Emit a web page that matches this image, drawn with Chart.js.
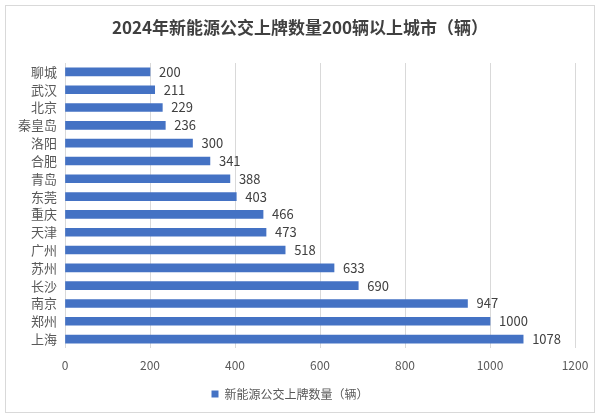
<!DOCTYPE html>
<html>
<head>
<meta charset="utf-8">
<script src="https://cdn.jsdelivr.net/npm/chart.js@4/dist/chart.umd.min.js"></script>
<style>
  html, body { margin: 0; padding: 0; background: #fff; }
</style>
</head>
<body>
<canvas id="busChart" width="600" height="420"></canvas>
<script>
const cities = ['聊城', '武汉', '北京', '秦皇岛', '洛阳', '合肥', '青岛', '东莞', '重庆', '天津', '广州', '苏州', '长沙', '南京', '郑州', '上海'];
const busCounts = [200, 211, 229, 236, 300, 341, 388, 403, 466, 473, 518, 633, 690, 947, 1000, 1078];
const xTicks = [0, 200, 400, 600, 800, 1000, 1200];

const titleText = '2024年新能源公交上牌数量200辆以上城市（辆）';
const seriesName = '新能源公交上牌数量（辆）';
const fontFamily = '"Noto Sans CJK SC", "Noto Sans", sans-serif';

// frame + title, drawn behind the chart
const framePlugin = {
    id: 'frame',
    beforeDraw: chart => {
        const ctx = chart.ctx;
        ctx.save();
        ctx.fillStyle = '#ffffff';
        ctx.fillRect(0, 0, chart.width, chart.height);
        ctx.strokeStyle = '#d9d9d9';
        ctx.lineWidth = 1;
        ctx.strokeRect(5.5, 5.5, 589, 407);
        ctx.fillStyle = '#404040';
        ctx.font = 'bold 17px ' + fontFamily;
        ctx.textAlign = 'center';
        ctx.textBaseline = 'middle';
        ctx.fillText(titleText, 300, 28);
        ctx.restore();
    }
};

// value labels at the end of each bar
const valueLabels = {
    id: 'valueLabels',
    afterDatasetsDraw: chart => {
        const ctx = chart.ctx;
        const meta = chart.getDatasetMeta(0);
        ctx.save();
        ctx.fillStyle = '#404040';
        ctx.font = '13px ' + fontFamily;
        ctx.textAlign = 'left';
        ctx.textBaseline = 'middle';
        meta.data.forEach((bar, i) => {
            ctx.fillText(String(busCounts[i]), bar.x + 9, bar.y);
        });
        ctx.restore();
    }
};

const ctx = document.getElementById('busChart').getContext('2d');

new Chart(ctx, {
    type: 'bar',
    data: {
        labels: cities,
        datasets: [{
            label: seriesName,
            data: busCounts,
            backgroundColor: '#4472c4',
            borderColor: '#4472c4',
            borderWidth: 0,
            barThickness: 8
        }]
    },
    options: {
        indexAxis: 'y',
        responsive: false,
        animation: false,
        layout: { padding: { top: 63, left: 5, right: 25, bottom: 10 } },
        plugins: {
            title: { display: false },
            tooltip: { enabled: false },
            legend: {
                position: 'bottom',
                labels: {
                    boxWidth: 7,
                    boxHeight: 7,
                    color: '#595959',
                    font: { family: fontFamily, size: 12 },
                    padding: 10
                }
            }
        },
        scales: {
            x: {
                min: 0,
                max: 1200,
                afterBuildTicks: scale => { scale.ticks = xTicks.map(v => ({ value: v })); },
                afterFit: scale => { scale.height = 30; },
                grid: { color: '#d9d9d9', drawTicks: false },
                border: { display: false },
                ticks: {
                    color: '#595959',
                    font: { family: fontFamily, size: 12 },
                    padding: 10,
                    callback: v => String(v)
                }
            },
            y: {
                afterFit: scale => { scale.width = 60; },
                grid: { display: false },
                border: { display: false },
                ticks: {
                    color: '#595959',
                    font: { family: fontFamily, size: 13 },
                    padding: 0,
                    autoSkip: false
                }
            }
        }
    },
    plugins: [framePlugin, valueLabels]
});
</script>
</body>
</html>
